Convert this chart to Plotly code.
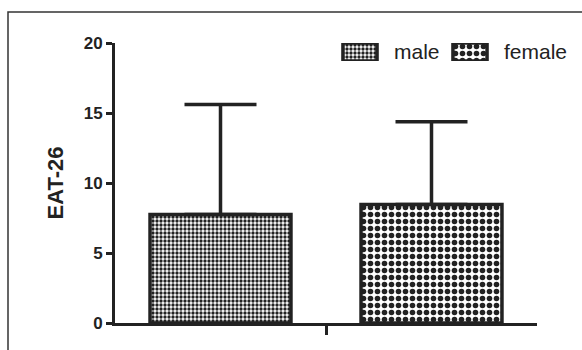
import plotly.graph_objects as go

# ---- data ----
groups = ["male", "female"]
means = [7.75, 8.46]
sd_upper = [7.86, 5.91]
y_ticks = [0, 5, 10, 15, 20]
y_title = "EAT-26"
category = ["EAT-26"]

ink = "#222222"
font_family = "Liberation Sans, Arial, Helvetica, sans-serif"

patterns = {"male": dict(shape=".", size=4, solidity=0.55),
            "female": dict(shape=".", size=7, solidity=0.5)}

fig = go.Figure()

for g, m, e in zip(groups, means, sd_upper):
    p = patterns[g]
    fig.add_trace(go.Bar(
        name=g, x=category, y=[m],
        marker=dict(color="white",
                    line=dict(color=ink, width=3.5),
                    pattern=dict(shape=p["shape"], size=p["size"], solidity=p["solidity"],
                                 fgcolor=ink, bgcolor="white", fillmode="replace")),
        error_y=dict(type="data", symmetric=False, array=[e], arrayminus=[0],
                     color=ink, thickness=3.5, width=36),
        showlegend=False, hoverinfo="skip",
    ))

# legend swatches drawn as bars on a small auxiliary axis
fig.add_trace(go.Bar(
    x=groups, y=[1, 1], xaxis="x2", yaxis="y2", width=0.31,
    marker=dict(color="white",
                line=dict(color=ink, width=3.5),
                pattern=dict(shape=[patterns[g]["shape"] for g in groups],
                             size=[patterns[g]["size"] for g in groups],
                             solidity=[patterns[g]["solidity"] for g in groups],
                             fgcolor=ink, bgcolor="white", fillmode="replace")),
    showlegend=False, hoverinfo="skip",
))

L, R, T, B = 115, 45, 43, 27
W, H = 582, 350
pw, ph = W - L - R, H - T - B

def px_x(x):
    return (x - L) / pw

def px_y(y):
    return (H - B - y) / ph

annotations = [
    dict(text="male", x=px_x(392), y=px_y(51), xref="paper", yref="paper",
         xanchor="left", yanchor="middle", showarrow=False,
         font=dict(family=font_family, size=21, color=ink)),
    dict(text="female", x=px_x(502), y=px_y(51), xref="paper", yref="paper",
         xanchor="left", yanchor="middle", showarrow=False,
         font=dict(family=font_family, size=21, color=ink)),
]

fig.update_layout(
    width=W, height=H,
    margin=dict(l=L, r=R, t=T, b=B, pad=0),
    paper_bgcolor="white", plot_bgcolor="white",
    barmode="group", bargap=0.0, bargroupgap=0.332,
    showlegend=False,
    font=dict(family=font_family, color=ink),
    xaxis=dict(type="category", range=[-0.5, 0.5], showline=True, linecolor=ink,
               linewidth=3, ticks="outside", ticklen=9, tickwidth=2.5, tickcolor=ink,
               showticklabels=False, showgrid=False, zeroline=False, fixedrange=True),
    yaxis=dict(range=[0, 20], tickvals=y_ticks, showline=True, linecolor=ink,
               linewidth=3, ticks="outside", ticklen=6, tickwidth=2.5, tickcolor=ink,
               tickfont=dict(family=font_family, size=17, color=ink, weight="bold"),
               title=dict(text=y_title, standoff=14,
                          font=dict(family=font_family, size=22, color=ink, weight="bold")),
               showgrid=False, zeroline=False, fixedrange=True),
    xaxis2=dict(type="category", domain=[px_x(305), px_x(525)], range=[-0.5, 1.5],
                anchor="y2", visible=False, fixedrange=True),
    yaxis2=dict(domain=[px_y(61), 1.0], range=[0, 1], anchor="x2",
                visible=False, fixedrange=True),
    annotations=annotations,
    shapes=[dict(type="rect", xref="paper", yref="paper",
                 x0=px_x(8), x1=px_x(620), y0=px_y(12), y1=px_y(380),
                 line=dict(color="#333333", width=1.5), fillcolor="rgba(0,0,0,0)",
                 layer="below")],
)

fig.write_html("out.html", config={"displayModeBar": False},
               post_script="document.body.style.margin='0';document.body.style.overflow='hidden';")
